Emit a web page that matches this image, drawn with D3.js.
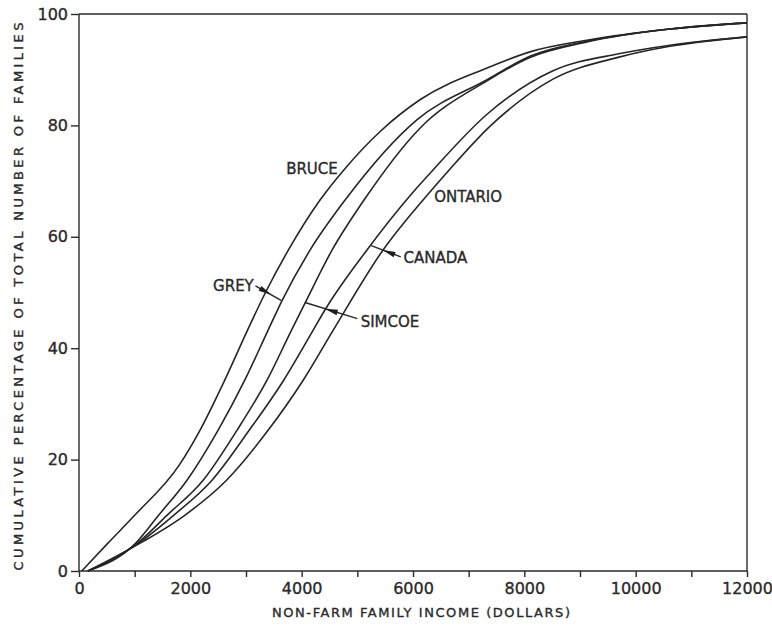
<!DOCTYPE html>
<html>
<head>
<meta charset="utf-8">
<script src="https://cdn.jsdelivr.net/npm/d3@7"></script>
<style>
  body { margin: 0; background: #fff; }
  svg text { font-family: "DejaVu Sans", sans-serif; fill: #2a2a2a; stroke: #2a2a2a; stroke-width: 0.35px; }
  .axis path, .axis line { stroke: #2a2a2a; stroke-width: 1.4; }
  .axis text { font-size: 16px; }
  .curve { fill: none; stroke: #262626; stroke-width: 1.6; }
</style>
</head>
<body>
<svg id="chart"></svg>
<script>
// income in dollars, cumulative percent of families
var bruce = [[50,0],[520,5],[1000,10],[1800,19],[2175,25.3],[2620,34.3],[3030,43.3],[3350,50],[3760,57.6],[4330,66.6],[4800,72.5],[5420,79],[6125,84.6],[7330,90.3],[8100,93.2],[9125,95.3],[10615,97.3],[12000,98.4]];
var grey = [[160,0],[1020,5],[1430,10],[1940,16.3],[2500,25.3],[2980,34.3],[3400,43.3],[3650,48.6],[4150,57.6],[4780,66.6],[6070,81],[7330,88.2],[8100,92.4],[9125,95.1],[10615,97.3],[12000,98.4]];
var simcoe = [[160,0],[1050,5],[1580,10],[2230,16.3],[2840,25.3],[3380,34.3],[3820,43.3],[4060,48.1],[4545,57.6],[5120,66.6],[6125,79.5],[7330,88],[8100,92.2],[9125,95],[10615,97.3],[12000,98.4]];
var canada = [[160,0],[1070,5],[1700,10],[2390,16.3],[3060,25.3],[3680,34.3],[4210,43.3],[4420,46.9],[5170,57.6],[6000,68],[6360,72],[7330,82],[8515,89.8],[9720,92.9],[10615,94.4],[12000,95.9]];
var ontario = [[160,0],[1100,5],[1900,10],[2650,16.3],[3400,25.3],[4030,34.3],[4570,43.3],[5460,57.6],[6300,68],[6650,72],[7400,80],[8515,88.3],[9720,92.3],[10615,94.2],[12000,95.9]];

var series = [bruce, grey, simcoe, canada, ontario];

var xTicks = [0,2000,4000,6000,8000,10000,12000];
var yTicks = [0,20,40,60,80,100];

// labels: [text, income, percent, anchor]
var plainLabels = [["BRUCE", 4185, 72.2, "middle"], ["ONTARIO", 6380, 67.2, "start"]];
// arrow labels: [text, labelIncome, labelPercent, anchor, arrowFromIncome, arrowFromPct, arrowToIncome, arrowToPct]
var arrowLabels = [
  ["GREY", 3140, 51.3, "end", 3170, 51.2, 3630, 48.6],
  ["SIMCOE", 5060, 44.8, "start", 5000, 45.3, 4060, 48.2],
  ["CANADA", 5830, 56.2, "start", 5780, 56.4, 5250, 58.4]
];

var W = 772, H = 634;
var margin = {top: 14, right: 25, bottom: 63, left: 79};
var width = W - margin.left - margin.right,
    height = H - margin.top - margin.bottom;

var svg = d3.select("#chart").attr("width", W).attr("height", H);
var g = svg.append("g").attr("transform", "translate(" + margin.left + "," + margin.top + ")");

var x = d3.scaleLinear().domain([0, 12000]).range([0, width]);
var y = d3.scaleLinear().domain([0, 100]).range([height, 0]);

// frame top and right
g.append("line").attr("x1", 0).attr("x2", width).attr("y1", 0).attr("y2", 0)
  .attr("stroke", "#2a2a2a").attr("stroke-width", 1.4);
g.append("line").attr("x1", width).attr("x2", width).attr("y1", 0).attr("y2", height)
  .attr("stroke", "#2a2a2a").attr("stroke-width", 1.4);

var xAxis = g.append("g").attr("class", "axis")
  .attr("transform", "translate(0," + height + ")")
  .call(d3.axisBottom(x).tickValues(d3.range(0, 12001, 1000)).tickSize(6).tickPadding(6)
    .tickFormat(function(d) { return xTicks.indexOf(d) >= 0 ? d : ""; }));
xAxis.select(".domain").attr("d", "M0,0H" + width);

var yAxis = g.append("g").attr("class", "axis")
  .call(d3.axisLeft(y).tickValues(yTicks).tickSize(8).tickPadding(3));
yAxis.select(".domain").attr("d", "M0," + height + "V0");

var line = d3.line()
  .x(function(d) { return x(d[0]); })
  .y(function(d) { return y(d[1]); })
  .curve(d3.curveMonotoneX);

g.selectAll(".curve").data(series).enter().append("path")
  .attr("class", "curve")
  .attr("d", line);

// curve names
g.selectAll(".plain").data(plainLabels).enter().append("text")
  .attr("x", function(d) { return x(d[1]); })
  .attr("y", function(d) { return y(d[2]); })
  .attr("dy", "0.36em")
  .attr("text-anchor", function(d) { return d[3]; })
  .style("font-size", "15px")
  .text(function(d) { return d[0]; });

arrowLabels.forEach(function(d) {
  g.append("text")
    .attr("x", x(d[1])).attr("y", y(d[2]))
    .attr("dy", "0.36em")
    .attr("text-anchor", d[3])
    .style("font-size", "15px")
    .text(d[0]);
  var x0 = x(d[4]), y0 = y(d[5]), x1 = x(d[6]), y1 = y(d[7]);
  g.append("line").attr("x1", x0).attr("y1", y0).attr("x2", x1).attr("y2", y1)
    .attr("stroke", "#262626").attr("stroke-width", 1.4);
  // arrow head partway along
  var dx = x1 - x0, dy = y1 - y0, len = Math.sqrt(dx * dx + dy * dy);
  var ux = dx / len, uy = dy / len;
  var tx = x0 + dx * 0.62, ty = y0 + dy * 0.62;
  var bx = tx - ux * 13, by = ty - uy * 13;
  g.append("path")
    .attr("d", "M" + tx + "," + ty + "L" + (bx - uy * 2.8) + "," + (by + ux * 2.8) +
      "L" + (bx + uy * 2.8) + "," + (by - ux * 2.8) + "Z")
    .attr("fill", "#1e1e1e");
});

// axis titles
svg.append("text")
  .attr("x", 421).attr("y", 617)
  .attr("text-anchor", "middle")
  .attr("textLength", 298).attr("lengthAdjust", "spacing")
  .style("font-size", "13px")
  .text("NON-FARM FAMILY INCOME  (DOLLARS)");

svg.append("text")
  .attr("transform", "translate(23," + (margin.top + height / 2 + 4) + ") rotate(-90)")
  .attr("text-anchor", "middle")
  .attr("textLength", 548).attr("lengthAdjust", "spacing")
  .style("font-size", "13px")
  .text("CUMULATIVE  PERCENTAGE  OF  TOTAL  NUMBER  OF  FAMILIES");
</script>
</body>
</html>
